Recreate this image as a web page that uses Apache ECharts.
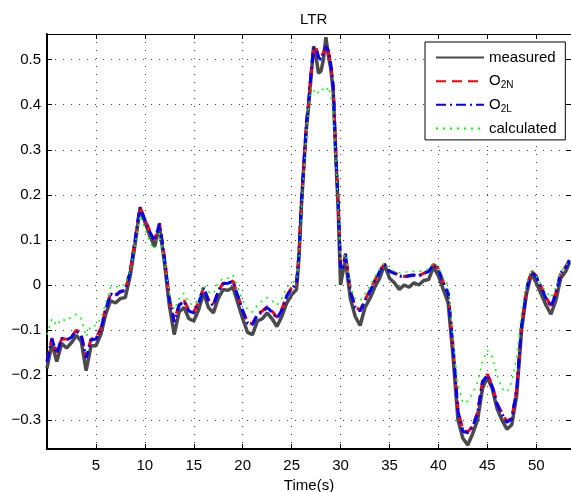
<!DOCTYPE html>
<html>
<head>
<meta charset="utf-8">
<script src="https://cdn.jsdelivr.net/npm/echarts@6/dist/echarts.min.js"></script>
<style>html,body{margin:0;padding:0;background:#fff;}#c{width:571px;height:492px;}</style>
</head>
<body>
<div id="c"></div>
<script>
// Time stamps (s)
const times = [
 0,0.5,1,1.5,2,2.5,3,3.5,4,4.5,5,5.5,6,6.5,7,7.5,8,8.5,9,9.5,
 10,10.5,11,11.5,12,12.5,13,13.5,14,14.5,15,15.5,16,16.5,17,17.5,18,18.5,19,19.5,
 20,20.5,21,21.5,22,22.5,23,23.5,24,24.5,25,25.5,
 25.75,26,26.25,26.5,26.75,27,27.25,27.5,27.75,28,28.25,28.5,28.75,29,29.25,29.5,29.75,30,30.25,30.5,
 31,31.5,32,32.5,33,33.5,34,34.5,35,35.5,36,36.5,37,37.5,38,38.5,39,39.5,40,40.5,
 41,41.5,42,42.5,43,43.5,44,44.5,45,45.5,46,46.5,47,47.5,48,48.5,49,49.5,50,50.5,
 51,51.5,52,52.5,53,53.4
];
const measured = [
 -0.185,-0.13,-0.17,-0.13,-0.14,-0.128,-0.112,-0.125,-0.19,-0.135,-0.135,-0.11,-0.065,-0.035,-0.04,-0.03,-0.028,0.02,0.09,0.17,
 0.14,0.11,0.085,0.13,0.05,-0.045,-0.11,-0.06,-0.05,-0.075,-0.08,-0.055,-0.018,-0.05,-0.062,-0.03,-0.01,-0.012,-0.005,-0.04,
 -0.075,-0.105,-0.11,-0.08,-0.075,-0.062,-0.075,-0.092,-0.07,-0.04,-0.022,-0.01,
 0.06,0.175,0.265,0.345,0.4,0.465,0.53,0.505,0.47,0.475,0.5,0.55,0.51,0.48,0.43,0.29,0.175,0.0,0.03,0.055,
 -0.03,-0.07,-0.09,-0.05,-0.03,-0.005,0.015,0.045,0.015,0.005,-0.01,0.0,-0.005,0.005,0.0,0.01,0.012,0.04,0.02,-0.01,
 -0.04,-0.16,-0.3,-0.34,-0.355,-0.33,-0.3,-0.23,-0.205,-0.23,-0.275,-0.3,-0.32,-0.31,-0.245,-0.1,-0.02,0.025,0.005,-0.02,
 -0.045,-0.065,-0.035,0.015,0.03,0.05
];
const o2n = [
 -0.168,-0.118,-0.15,-0.12,-0.12,-0.115,-0.1,-0.11,-0.16,-0.12,-0.118,-0.096,-0.053,-0.02,-0.022,-0.014,-0.012,0.032,0.1,0.173,
 0.146,0.12,0.1,0.137,0.062,-0.028,-0.08,-0.044,-0.034,-0.056,-0.06,-0.038,-0.005,-0.033,-0.044,-0.013,0.004,0.005,0.009,-0.023,
 -0.056,-0.083,-0.086,-0.064,-0.058,-0.048,-0.058,-0.072,-0.054,-0.023,-0.006,0.005,
 0.07,0.185,0.27,0.355,0.41,0.475,0.528,0.526,0.506,0.502,0.516,0.532,0.52,0.49,0.44,0.3,0.185,0.042,0.042,0.07,
 -0.013,-0.048,-0.056,-0.033,-0.012,0.01,0.032,0.047,0.031,0.027,0.021,0.019,0.021,0.023,0.021,0.026,0.031,0.046,0.036,0.006,
 -0.018,-0.138,-0.278,-0.322,-0.326,-0.313,-0.283,-0.215,-0.198,-0.222,-0.263,-0.285,-0.303,-0.295,-0.232,-0.088,-0.008,0.032,0.02,-0.004,
 -0.028,-0.046,-0.018,0.028,0.04,0.056
];
const o2l = [
 -0.17,-0.12,-0.152,-0.118,-0.122,-0.116,-0.102,-0.112,-0.162,-0.122,-0.12,-0.098,-0.055,-0.02,-0.024,-0.015,-0.012,0.03,0.1,0.172,
 0.145,0.118,0.098,0.136,0.06,-0.03,-0.082,-0.045,-0.036,-0.058,-0.062,-0.04,-0.006,-0.035,-0.046,-0.014,0.003,0.004,0.008,-0.025,
 -0.058,-0.085,-0.088,-0.066,-0.06,-0.05,-0.06,-0.074,-0.056,-0.025,-0.008,0.003,
 0.07,0.185,0.27,0.355,0.41,0.475,0.525,0.525,0.505,0.5,0.515,0.53,0.52,0.49,0.44,0.3,0.185,0.04,0.04,0.068,
 -0.015,-0.05,-0.058,-0.035,-0.014,0.008,0.03,0.045,0.03,0.026,0.02,0.018,0.02,0.022,0.02,0.025,0.03,0.045,0.035,0.005,
 -0.02,-0.14,-0.28,-0.325,-0.328,-0.315,-0.285,-0.215,-0.2,-0.225,-0.265,-0.287,-0.305,-0.297,-0.232,-0.09,-0.01,0.03,0.018,-0.006,
 -0.03,-0.048,-0.02,0.027,0.038,0.055
];
const calculated = [
 -0.11,-0.075,-0.09,-0.075,-0.08,-0.07,-0.065,-0.075,-0.115,-0.09,-0.09,-0.075,-0.04,-0.005,-0.005,0.0,0.0,0.03,0.09,0.155,
 0.125,0.095,0.08,0.115,0.05,-0.02,-0.055,-0.03,-0.018,-0.04,-0.045,-0.03,0.0,-0.015,-0.02,0.005,0.015,0.015,0.022,-0.005,
 -0.035,-0.055,-0.06,-0.045,-0.035,-0.028,-0.035,-0.045,-0.03,-0.005,0.005,0.01,
 0.06,0.165,0.25,0.33,0.4,0.44,0.43,0.435,0.425,0.43,0.435,0.43,0.44,0.42,0.38,0.285,0.175,0.06,0.055,0.07,
 -0.005,-0.03,-0.035,-0.02,-0.002,0.018,0.035,0.05,0.035,0.03,0.027,0.028,0.03,0.03,0.03,0.032,0.035,0.05,0.04,0.015,
 0.0,-0.12,-0.22,-0.262,-0.258,-0.24,-0.215,-0.17,-0.145,-0.16,-0.2,-0.23,-0.238,-0.215,-0.16,-0.06,0.0,0.035,0.02,0.0,
 -0.015,-0.028,-0.005,0.03,0.04,0.058
];
const xTickLabels = [5,10,15,20,25,30,35,40,45,50];
const yTickLabels = [-0.3,-0.2,-0.1,0,0.1,0.2,0.3,0.4,0.5];

const FONT = '"Liberation Sans", Arial, Helvetica, sans-serif';
const pair = arr => times.map((t,i)=>[t, arr[i]]);

const chart = echarts.init(document.getElementById('c'), null, {renderer:'canvas'});
const xRange = [0, 53.55], yRange = [-0.364, 0.557];
const gridLine = {show:true, lineStyle:{color:'#444', width:1, type:[1,7]}};
chart.setOption({
  animation:false,
  backgroundColor:'#fff',
  title:{text:'LTR', left:295, top:7, textStyle:{fontFamily:FONT, fontSize:15, fontWeight:'normal', color:'#000'}},
  grid:{left:47, top:34, right:0, bottom:43, containLabel:false, outerBoundsMode:'none'},
  legend:{
    orient:'vertical', left:425, top:42,
    backgroundColor:'#fff', borderColor:'#000', borderWidth:1,
    padding:[8,6,2,10], itemWidth:48, itemHeight:19, itemGap:6.5,
    itemStyle:{opacity:0},
    textStyle:{fontFamily:FONT, fontSize:15, color:'#000',
      rich:{
        o:{fontFamily:FONT, fontSize:15, color:'#000'},
        s:{fontFamily:FONT, fontSize:10, color:'#000', padding:[9,0,0,0]}
      }},
    formatter: n => n==='O2N' ? '{o|O}{s|2N}' : n==='O2L' ? '{o|O}{s|2L}' : '{o|'+n+'}{s| }',
    data:['measured','O2N','O2L','calculated']
  },
  xAxis:[{
    type:'value', min:xRange[0], max:xRange[1], splitNumber:10, position:'bottom',
    name:'Time(s)', nameLocation:'middle', nameGap:25,
    nameTextStyle:{fontFamily:FONT, fontSize:15, color:'#000'},
    axisLine:{show:true, onZero:false, lineStyle:{color:'#000', width:2}},
    axisTick:{show:true, inside:true, length:5, lineStyle:{color:'#000'}},
    axisLabel:{fontFamily:FONT, fontSize:15, color:'#000', margin:9, showMinLabel:true, showMaxLabel:true,
      formatter: v => xTickLabels.some(t=>Math.abs(t-v)<1e-6) ? String(v) : ''},
    splitLine:gridLine
  },{
    type:'value', min:xRange[0], max:xRange[1], splitNumber:10, position:'top',
    axisLine:{show:true, onZero:false, lineStyle:{color:'#000', width:1}},
    axisTick:{show:true, inside:true, length:5, lineStyle:{color:'#000'}},
    axisLabel:{show:false}, splitLine:{show:false}
  }],
  yAxis:[{
    type:'value', min:yRange[0], max:yRange[1], splitNumber:9, position:'left',
    axisLine:{show:true, onZero:false, lineStyle:{color:'#000', width:2}},
    axisTick:{show:true, inside:true, length:5, lineStyle:{color:'#000'}},
    axisLabel:{fontFamily:FONT, fontSize:15, color:'#000', margin:6,
      formatter: v => {
        const m = yTickLabels.find(t=>Math.abs(t-v)<1e-6);
        return m===undefined ? '' : String(m).replace('-', '\u2212');
      }},
    splitLine:gridLine
  },{
    type:'value', min:yRange[0], max:yRange[1], splitNumber:9, position:'right',
    axisLine:{show:true, onZero:false, lineStyle:{color:'#000', width:1}},
    axisTick:{show:true, inside:true, length:5, lineStyle:{color:'#000'}},
    axisLabel:{show:false}, splitLine:{show:false}
  }],
  series:[
    {name:'measured', type:'line', data:pair(measured), symbol:'none', showSymbol:false,
     lineStyle:{color:'#4a4a4a', width:3.5, type:'solid'}, itemStyle:{color:'#4a4a4a'}},
    {name:'O2N', type:'line', data:pair(o2n), symbol:'none', showSymbol:false,
     lineStyle:{color:'#ff0000', width:3, type:[10,6]}, itemStyle:{color:'#ff0000'}},
    {name:'O2L', type:'line', data:pair(o2l), symbol:'none', showSymbol:false,
     lineStyle:{color:'#0000ff', width:3, type:[10,4,2,4]}, itemStyle:{color:'#0000ff'}},
    {name:'calculated', type:'line', data:pair(calculated), symbol:'none', showSymbol:false,
     lineStyle:{color:'#00ff00', width:1.5, type:[2,5]}, itemStyle:{color:'#00ff00'}}
  ]
});
</script>
</body>
</html>
